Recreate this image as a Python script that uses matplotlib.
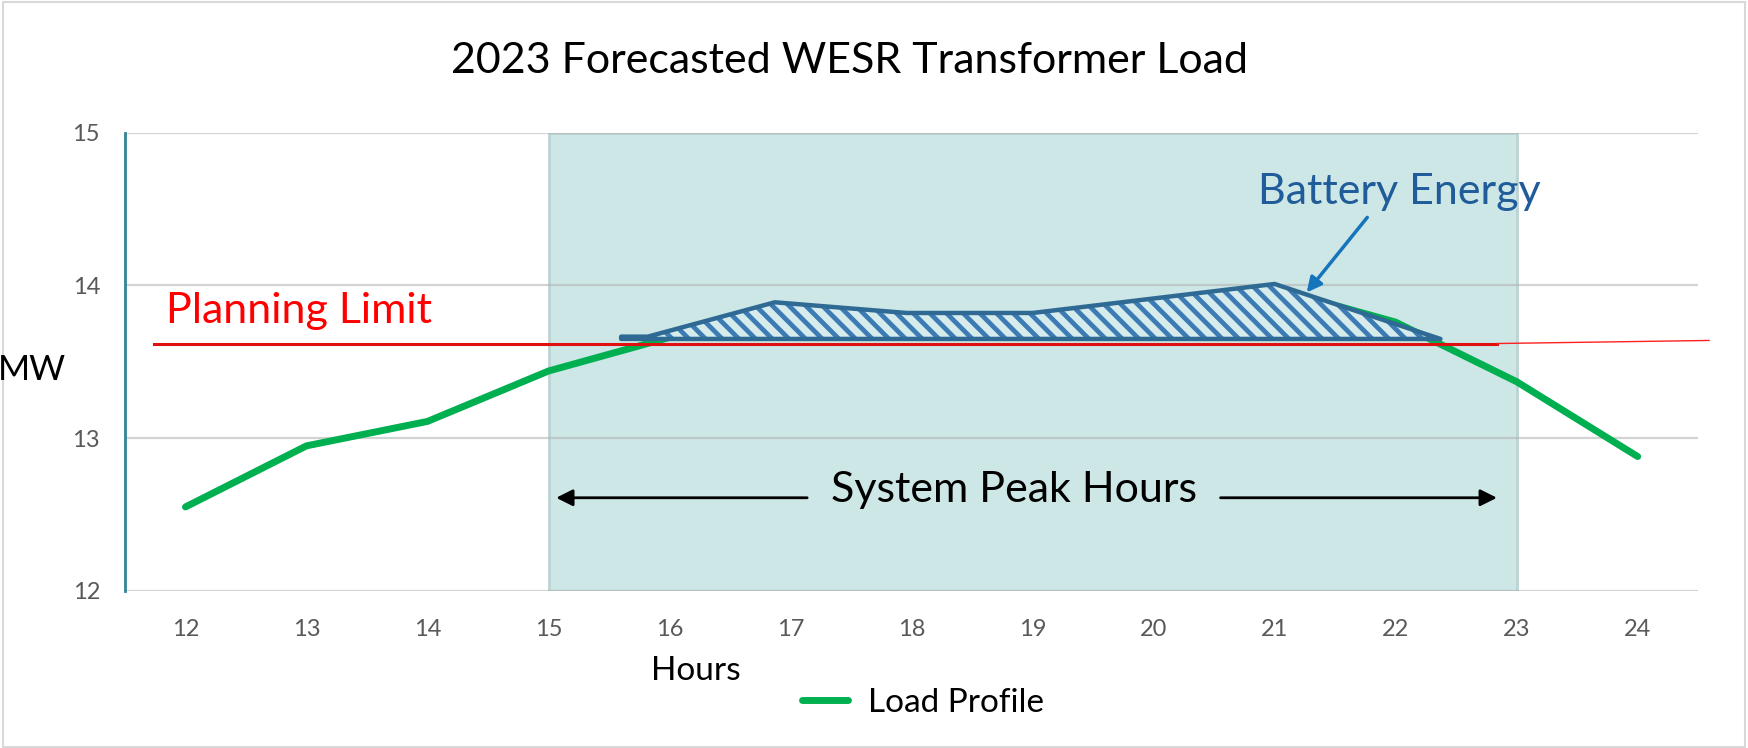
import matplotlib.pyplot as plt
from matplotlib.patches import Polygon, Rectangle

plt.rcParams['font.family'] = ['Lato', 'DejaVu Sans']
plt.rcParams['hatch.linewidth'] = 3.4

# load profile (MW) per hour
hours = [12, 13, 14, 15, 16, 17, 18, 19, 20, 21, 22, 23, 24]
load = [12.55, 12.95, 13.11, 13.44, 13.66, 13.85, 13.79, 13.80, 13.88, 13.98, 13.76, 13.37, 12.88]

planning_limit = 13.62
peak_start, peak_end = 15, 23

# hand drawn battery energy shape
battery_x = [15.60, 15.82, 16.87, 17.96, 19.00, 21.00, 22.37]
battery_top = [13.665, 13.665, 13.89, 13.82, 13.82, 14.01, 13.65]
battery_base = 13.65

fig = plt.figure(figsize=(17.48, 7.48), dpi=100)
ax = fig.add_axes([0.0715, 0.21, 0.9, 0.6125])

ax.axvspan(peak_start, peak_end, facecolor='#cde6e6', edgecolor='#bcd3d3', linewidth=2, zorder=0)
for y in [12, 13, 14, 15]:
    ax.axhline(y, color='#b0b0b0', linewidth=1.6, alpha=0.55, zorder=1)

ax.plot(hours, load, color='#00b050', linewidth=5, solid_capstyle='round',
        solid_joinstyle='round', label='Load Profile', zorder=3)

pts = list(zip(battery_x, battery_top)) + [(battery_x[-1], battery_base), (battery_x[0], battery_base)]
ax.add_patch(Polygon(pts, closed=True, facecolor='#d6ecec', linewidth=0, zorder=4))
ax.add_patch(Polygon(pts, closed=True, facecolor='none', edgecolor='#3d7bb5',
                     hatch='\\\\', linewidth=0, zorder=4.5))
ax.add_patch(Polygon(pts, closed=True, facecolor='none', edgecolor='#2e6a94',
                     linewidth=3.2, joinstyle='round', zorder=5))

ax.plot([11.74, 22.84], [planning_limit, planning_limit], color='#e01010', linewidth=2.2, zorder=6)
ax.plot([22.84, 24.59], [planning_limit, planning_limit + 0.02], color='#ff2020',
        linewidth=1, zorder=6, clip_on=False)
ax.text(11.84, 13.83, 'Planning Limit', color='#ff0000', fontsize=31, va='center', ha='left')

ax.text(22.03, 14.61, 'Battery Energy', color='#1f5c99', fontsize=31, ha='center', va='center')
ax.annotate('', xy=(21.25, 13.94), xytext=(21.78, 14.46),
            arrowprops=dict(arrowstyle='-|>', color='#1574bb', lw=2.5, mutation_scale=22))

ax.text(18.85, 12.66, 'System Peak Hours', fontsize=31, ha='center', va='center')
ax.annotate('', xy=(15.04, 12.61), xytext=(17.16, 12.61),
            arrowprops=dict(arrowstyle='-|>', color='black', lw=2, mutation_scale=25))
ax.annotate('', xy=(22.86, 12.61), xytext=(20.53, 12.61),
            arrowprops=dict(arrowstyle='-|>', color='black', lw=2, mutation_scale=25))

ax.set_xlim(11.5, 24.5)
ax.set_ylim(12, 15)
ax.set_xticks(hours)
ax.set_yticks([12, 13, 14, 15])
ax.tick_params(axis='both', length=0, labelsize=17, labelcolor='#595959')
ax.tick_params(axis='x', pad=20)
ax.tick_params(axis='y', pad=18)
for s in ['top', 'right', 'bottom']:
    ax.spines[s].set_visible(False)
ax.spines['left'].set_color('#31849b')
ax.spines['left'].set_linewidth(2)

fig.text(0.486, 0.918, '2023 Forecasted WESR Transformer Load', fontsize=31, ha='center', va='center')
fig.text(0.018, 0.505, 'MW', fontsize=25, ha='center', va='center')
fig.text(0.398, 0.103, 'Hours', fontsize=24, ha='center', va='center')
ax.legend(loc='center', bbox_to_anchor=(0.528, 0.06), bbox_transform=fig.transFigure,
          frameon=False, fontsize=24, handlelength=1.4, handletextpad=0.6)

fig.add_artist(Rectangle((0.002, 0.002), 0.996, 0.995, transform=fig.transFigure,
                         fill=False, edgecolor='#d9d9d9', linewidth=1.5))

fig.savefig('out.png', dpi=100)
